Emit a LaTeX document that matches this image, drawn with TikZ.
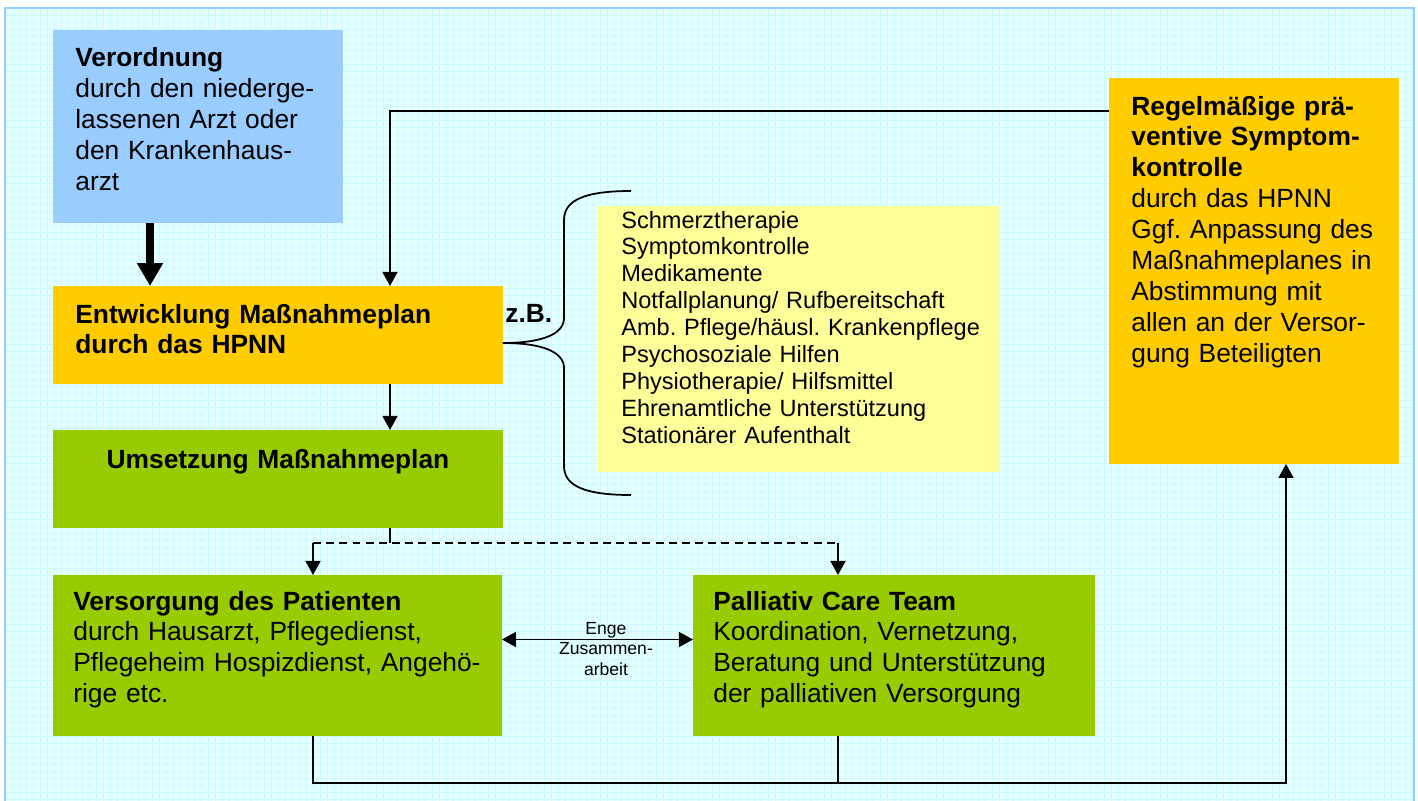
\documentclass[tikz,border=0pt]{standalone}
\usepackage{fontspec}
\setmainfont{Liberation Sans}
\usetikzlibrary{arrows.meta}
\frenchspacing

\definecolor{hgblau}{RGB}{228,255,255}
\definecolor{gitter}{RGB}{204,250,255}
\definecolor{rahmen}{RGB}{153,204,255}
\definecolor{hpnnblau}{RGB}{153,204,255}
\definecolor{hpnnorange}{RGB}{255,204,0}
\definecolor{hpnngruen}{RGB}{153,204,0}
\definecolor{hpnngelb}{RGB}{255,255,153}

\tikzset{
  box/.style={anchor=north west, inner sep=0pt, outer sep=0pt},
  txt/.style={anchor=base west, inner sep=0pt, align=left, text width=10cm,
    font=\fontsize{15}{17.6}\selectfont},
  strich/.style={line width=1pt},
  pfeil/.style={strich, -{Triangle[width=8.5pt,length=8pt]}},
  doppel/.style={strich, {Triangle[width=8.5pt,length=8pt]}-{Triangle[width=8.5pt,length=8pt]}},
  fett/.style={line width=4.5pt, -{Triangle[width=14pt,length=13pt]}}
}

\begin{document}
\begin{tikzpicture}[x=0.02cm, y=-0.02cm]
    \useasboundingbox (0,0) rectangle (1418,801);
    % hintergrund
    \fill[hgblau] (5,8) rectangle (1414,801);
    \foreach \i in {12,19,...,1414} \draw[gitter, line width=0.3pt] (\i,8) -- (\i,801);
    \foreach \j in {15,22,...,801} \draw[gitter, line width=0.3pt] (5,\j) -- (1414,\j);
    \draw[rahmen, line width=1.2pt] (5,801) -- (5,8) -- (1414,8) -- (1414,801);

    % kaesten
    \node[box, fill=hpnnblau, minimum width=5.8cm, minimum height=3.86cm] (verord) at (53,30) {};
    \node[txt] (verordtxt) at (75,67) {\textbf{Verordnung}\\durch den niederge-\\lassenen Arzt oder\\den Krankenhaus-\\arzt};

    \node[box, fill=hpnnorange, minimum width=9cm, minimum height=1.96cm] (plan) at (53,286) {};
    \node[txt] (plantxt) at (75,323) {\bfseries Entwicklung Maßnahmeplan\\durch das HPNN};

    \node[box, fill=hpnngruen, minimum width=9cm, minimum height=1.96cm] (umsetz) at (53,430) {};
    \node[txt, anchor=base, align=center] (umsetztxt) at (278,468) {\bfseries Umsetzung Maßnahmeplan};

    \node[box, fill=hpnngelb, minimum width=8.04cm, minimum height=5.32cm] (liste) at (598,206) {};
    \node[txt, font=\fontsize{13.4}{15.3}\selectfont] (listetxt) at (621,228) {Schmerztherapie\\Symptomkontrolle\\Medikamente\\Notfallplanung/ Rufbereitschaft\\Amb. Pflege/häusl. Krankenpflege\\Psychosoziale Hilfen\\Physiotherapie/ Hilfsmittel\\Ehrenamtliche Unterstützung\\Stationärer Aufenthalt};

    \node[box, fill=hpnnorange, minimum width=5.8cm, minimum height=7.72cm] (kontrolle) at (1109,78) {};
    \node[txt] (kontrolletxt) at (1131,115) {\textbf{Regelmäßige prä-}\\\textbf{ventive Symptom-}\\\textbf{kontrolle}\\durch das HPNN\\Ggf. Anpassung des\\Maßnahmeplanes in\\Abstimmung mit\\allen an der Versor-\\gung Beteiligten};

    \node[box, fill=hpnngruen, minimum width=8.98cm, minimum height=3.22cm] (versorg) at (53,575) {};
    \node[txt] (versorgtxt) at (73,610) {\textbf{Versorgung des Patienten}\\durch Hausarzt, Pflegedienst,\\Pflegeheim Hospizdienst, Angehö-\\rige etc.};

    \node[box, fill=hpnngruen, minimum width=8.04cm, minimum height=3.22cm] (pct) at (693,575) {};
    \node[txt] (pcttxt) at (713,610) {\textbf{Palliativ Care Team}\\Koordination, Vernetzung,\\Beratung und Unterstützung\\der palliativen Versorgung};

    \node[txt] (zb) at (505,322) {\bfseries z.B.};

    % verbindungen
    \draw[fett] ([shift={(97,0)}]verord.south west) -- ([shift={(97,0)}]plan.north west);
    \draw[pfeil] ([shift={(0,33)}]kontrolle.north west) -| ([shift={(337,0)}]plan.north west);
    \draw[pfeil] ([shift={(337,0)}]plan.south west) -- ([shift={(337,0)}]umsetz.north west);

    \coordinate (teil) at ([shift={(337,15)}]umsetz.south west);
    \coordinate (vl) at ([shift={(260,0)}]versorg.north west);
    \coordinate (pl) at ([shift={(145,0)}]pct.north west);
    \draw[strich] ([shift={(337,0)}]umsetz.south west) -- (teil);
    \draw[strich, dash pattern=on 4.5pt off 3pt] (teil -| vl) -- (teil -| pl);
    \draw[pfeil] (teil -| vl) -- (vl);
    \draw[pfeil] (teil -| pl) -- (pl);

    \draw[doppel] ([shift={(0,-16)}]versorg.east) -- ([shift={(0,-16)}]pct.west);
    \node[anchor=base, inner sep=0pt, text width=2.5cm, align=center,
      font=\fontsize{10}{11.9}\selectfont] (enge) at (606,634) {Enge\\Zusammen-\\arbeit};

    \coordinate (rueck) at (1286,783);
    \draw[pfeil] ([shift={(260,0)}]versorg.south west) |- (rueck) -- ([shift={(177,0)}]kontrolle.south west);
    \draw[strich] ([shift={(145,0)}]pct.south west) -- ([shift={(145,0)}]pct.south west |- rueck);

    % klammer
    \draw[strich] ([shift={(0,8)}]plan.east) .. controls (540,343) and (564,335) .. (564,318)
      -- (564,220) .. controls (564,200) and (585,191) .. (631,191);
    \draw[strich] ([shift={(0,8)}]plan.east) .. controls (540,343) and (564,351) .. (564,368)
      -- (564,466) .. controls (564,486) and (585,495) .. (631,495);
\end{tikzpicture}
\end{document}
